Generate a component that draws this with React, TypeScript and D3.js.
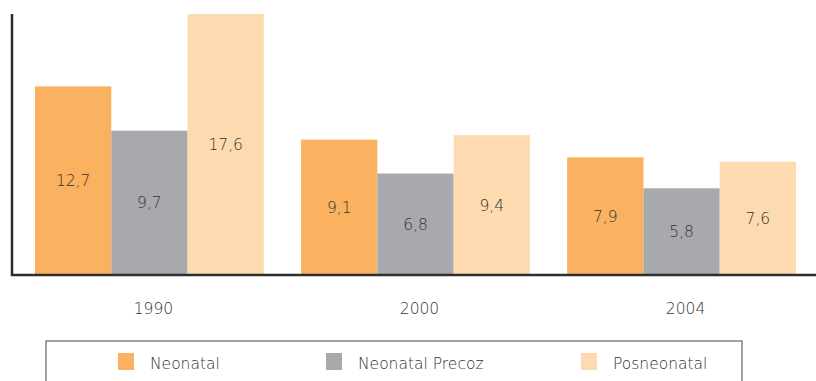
import React from "react";
import * as d3 from "d3";

const categories = ["1990", "2000", "2004"];
const seriesNames = ["Neonatal", "Neonatal Precoz", "Posneonatal"];
const neonatal = [12.7, 9.1, 7.9];
const neonatalPrecoz = [9.7, 6.8, 5.8];
const posneonatal = [17.6, 9.4, 7.6];
const colors = ["#FBB260", "#A8A9AC", "#FDDAB0"];

const W = 816;
const H = 381;
const FONT = "'DejaVu Sans', sans-serif";

export default function App() {
  const series = [neonatal, neonatalPrecoz, posneonatal];
  const x0 = d3.scaleBand<string>().domain(categories).range([35, 796]).paddingInner(0.14).paddingOuter(0);
  const x1 = d3.scaleBand<string>().domain(seriesNames).range([0, x0.bandwidth()]).padding(0);
  const y = d3.scaleLinear().domain([0, 17.6]).range([274, 14]);
  const fmt = (v: number) => v.toFixed(1).replace(".", ",");
  const legendX = [118, 326, 581];

  return (
    <svg width={W} height={H} style={{ position: "absolute", left: 0, top: 0 }}>
      <rect width={W} height={H} fill="#fff" />
      {categories.map((c, ci) => (
        <g key={c} transform={`translate(${x0(c)},0)`}>
          {seriesNames.map((s, si) => {
            const v = series[si][ci];
            const bx = x1(s)!;
            return (
              <g key={s}>
                <rect x={bx} y={y(v)} width={x1.bandwidth()} height={y(0) - y(v)} fill={colors[si]} />
                <text
                  x={bx + x1.bandwidth() / 2}
                  y={(y(v) + y(0)) / 2 + 6}
                  textAnchor="middle"
                  fontFamily={FONT}
                  fontWeight={200}
                  fontSize={15.5}
                  fill="#333"
                >
                  {fmt(v)}
                </text>
              </g>
            );
          })}
          <text
            x={x0.bandwidth() / 2 + 4}
            y={314}
            textAnchor="middle"
            fontFamily={FONT}
            fontWeight={200}
            fontSize={15.5}
            fill="#333"
          >
            {c}
          </text>
        </g>
      ))}
      <line x1={12} x2={12} y1={14} y2={276} stroke="#2e2e2e" strokeWidth={2.5} />
      <line x1={11} x2={816} y1={275} y2={275} stroke="#2e2e2e" strokeWidth={2.5} />
      <rect x={46} y={341} width={696} height={60} fill="none" stroke="#666" strokeWidth={1.2} />
      {seriesNames.map((s, i) => (
        <g key={s}>
          <rect x={legendX[i]} y={353} width={16} height={17} fill={colors[i]} />
          <text x={legendX[i] + 32} y={369} fontFamily={FONT} fontWeight={200} fontSize={15.5} fill="#333">
            {s}
          </text>
        </g>
      ))}
    </svg>
  );
}
